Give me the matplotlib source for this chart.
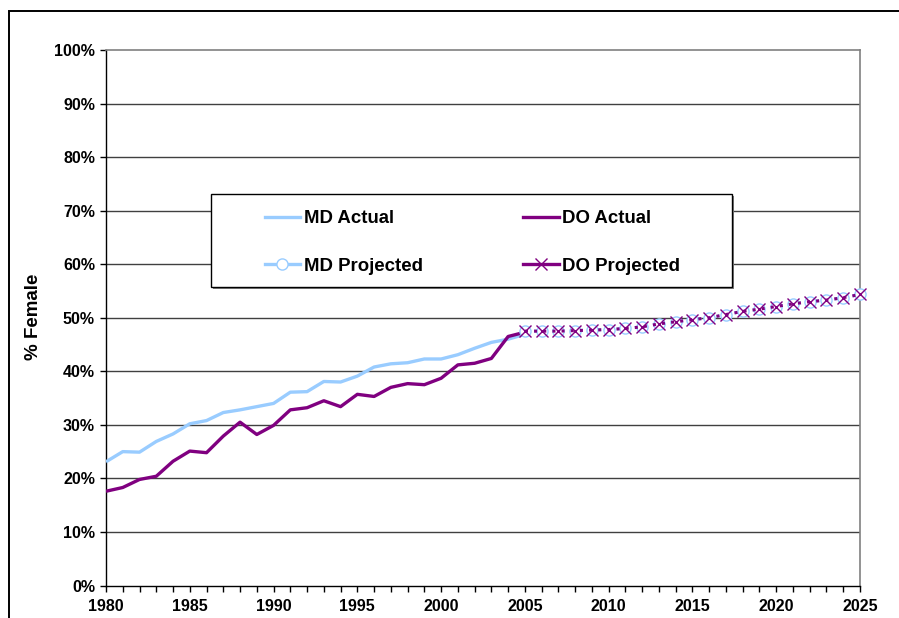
import matplotlib
matplotlib.use("Agg")
import matplotlib.pyplot as plt
from matplotlib.lines import Line2D
from matplotlib.patches import Rectangle
from matplotlib.ticker import MultipleLocator, FuncFormatter

plt.rcParams['font.family'] = ['Liberation Sans', 'DejaVu Sans']
plt.rcParams['font.weight'] = 'bold'

# ---- data ----
years_actual = list(range(1980, 2006))
md_actual = [23.1, 25.0, 24.9, 26.9, 28.3, 30.2, 30.8, 32.3, 32.8, 33.4,
             34.0, 36.1, 36.2, 38.1, 38.0, 39.1, 40.8, 41.4, 41.6, 42.3,
             42.3, 43.1, 44.3, 45.4, 46.0, 46.9]
do_actual = [17.6, 18.3, 19.8, 20.4, 23.2, 25.1, 24.8, 27.9, 30.5, 28.2,
             29.9, 32.8, 33.2, 34.5, 33.4, 35.7, 35.3, 37.0, 37.7, 37.5,
             38.7, 41.2, 41.5, 42.4, 46.5, 47.3]
years_proj = list(range(2005, 2026))
md_projected = [47.5, 47.5, 47.5, 47.6, 47.7, 47.8, 48.0, 48.3, 48.85, 49.25,
                49.65, 50.0, 50.6, 51.2, 51.6, 52.1, 52.6, 53.0, 53.3, 53.75,
                54.35]
do_projected = [47.5, 47.5, 47.5, 47.6, 47.7, 47.8, 48.0, 48.3, 48.85, 49.25,
                49.65, 50.0, 50.6, 51.2, 51.6, 52.1, 52.6, 53.0, 53.3, 53.75,
                54.35]
x_major = [1980, 1985, 1990, 1995, 2000, 2005, 2010, 2015, 2020, 2025]
y_ticks = [0, 10, 20, 30, 40, 50, 60, 70, 80, 90, 100]
y_label = "% Female"
labels = ["MD Actual", "DO Actual", "MD Projected", "DO Projected"]

MD_COLOR = "#99CCFF"
DO_COLOR = "#800080"

W, H = 899, 618
fig = plt.figure(figsize=(W / 100, H / 100), dpi=100)

def fx(px):
    return px / W

def fy(py):
    return 1 - py / H

left, right, top, bottom = 106, 860, 50, 585.5
ax = fig.add_axes([fx(left), fy(bottom), fx(right - left), (bottom - top) / H])

# outer chart border
fig.patches.append(Rectangle((fx(9), -0.1), 1.2, fy(10.5) + 0.1,
                             transform=fig.transFigure, fill=False,
                             edgecolor='black', linewidth=1.4, zorder=0))

ax.set_xlim(1980, 2025)
ax.set_ylim(0, 100)

for yv in y_ticks[1:-1]:
    ax.axhline(yv, color='#404040', linewidth=1.0, zorder=1)

ax.plot(years_actual, md_actual, color=MD_COLOR, linewidth=2.4, zorder=3,
        solid_capstyle='butt')
ax.plot(years_actual, do_actual, color=DO_COLOR, linewidth=2.4, zorder=4,
        solid_capstyle='butt')
ax.plot(years_proj, md_projected, color=MD_COLOR, linewidth=2.2,
        linestyle=(0, (1, 2)), marker='o', markersize=8,
        markerfacecolor='white', markeredgecolor=MD_COLOR,
        markeredgewidth=1.0, zorder=5, clip_on=False)
ax.plot(years_proj, do_projected, color=DO_COLOR, linewidth=2.2,
        linestyle=(0, (1, 2)), marker='x', markersize=8.5,
        markeredgecolor=DO_COLOR, markeredgewidth=1.0, zorder=6,
        clip_on=False)

# axes styling
for s in ['top', 'right']:
    ax.spines[s].set_color('#808080')
    ax.spines[s].set_linewidth(1.2)
for s in ['left', 'bottom']:
    ax.spines[s].set_color('black')
    ax.spines[s].set_linewidth(1.0)

ax.set_xticks(x_major)
ax.xaxis.set_minor_locator(MultipleLocator(1))
ax.set_yticks(y_ticks)
ax.yaxis.set_major_formatter(FuncFormatter(lambda v, p: f"{int(v)}%"))
ax.tick_params(axis='both', which='both', direction='out', length=4,
               width=1.0, color='black', labelsize=11.5)
ax.tick_params(axis='x', which='major', pad=6)
ax.tick_params(axis='y', which='major', pad=4)
for lbl in ax.get_xticklabels() + ax.get_yticklabels():
    lbl.set_fontweight('bold')

fig.text(fx(33), fy(317), y_label, rotation=90, ha='center', va='center',
         fontsize=13.5, fontweight='bold')

# legend frame with shadow
lx0, lx1, ly0, ly1 = 211, 732, 194, 287
fig.patches.append(Rectangle((fx(lx0 + 2), fy(ly1 + 2)), fx(lx1 - lx0),
                             (ly1 - ly0) / H, transform=fig.transFigure,
                             facecolor='#808080', edgecolor='none', zorder=3))
fig.patches.append(Rectangle((fx(lx0), fy(ly1)), fx(lx1 - lx0),
                             (ly1 - ly0) / H, transform=fig.transFigure,
                             facecolor='white', edgecolor='black',
                             linewidth=1.0, zorder=3.5))

handles = [
    Line2D([], [], color=MD_COLOR, linewidth=2.4),
    Line2D([], [], color=MD_COLOR, linewidth=2.4, marker='o', markersize=8,
           markerfacecolor='white', markeredgecolor=MD_COLOR),
    Line2D([], [], color=DO_COLOR, linewidth=2.4),
    Line2D([], [], color=DO_COLOR, linewidth=2.4, marker='x', markersize=8.5,
           markeredgecolor=DO_COLOR),
]
leg_labels = [labels[0], labels[2], labels[1], labels[3]]
leg = fig.legend(handles, leg_labels, ncol=2, frameon=False,
                 loc='center', bbox_to_anchor=(fx((lx0 + lx1) / 2 + 1), fy((ly0 + ly1) / 2 + 2)),
                 prop={'weight': 'bold', 'size': 13.4},
                 handlelength=1.9, handletextpad=0.2, columnspacing=5.4,
                 labelspacing=1.62, borderpad=0)
leg.set_zorder(4)

fig.savefig("out.png", dpi=100)
